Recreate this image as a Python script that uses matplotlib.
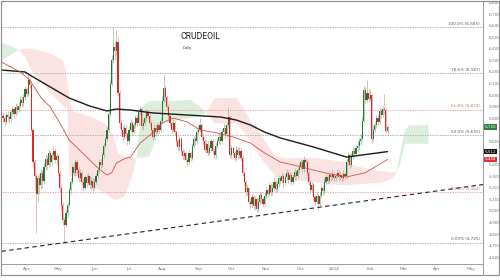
import matplotlib
matplotlib.use("Agg")
import matplotlib.pyplot as plt
import matplotlib.transforms as mtransforms
from matplotlib.patches import Rectangle
from matplotlib.lines import Line2D
import numpy as np
import pandas as pd

# ---------------- data ----------------
start_date = "2023-03-13"

closes = [5800, 5770, 5830, 5810, 5790, 5850, 5880, 5840, 5900, 5870,
          5910, 5960, 5930, 5980, 6050, 6010, 6130, 6090, 5700, 5420,
          5300, 5150, 5280, 5220, 5330, 5260, 5380, 5450, 5400, 5500,
          5420, 5480, 5520, 5440, 5470, 5330, 5200, 5050, 4920, 4880,
          4980, 5050, 5180, 5250, 5380, 5330, 5420, 5350, 5280, 5330,
          5250, 5200, 5290, 5240, 5300, 5220, 5260, 5200, 5250, 5300,
          5350, 5420, 5400, 5480, 5560, 5620, 5700, 5840, 6100, 6300,
          6420, 6380, 6460, 6020, 5760, 5700, 5640, 5720, 5660, 5600,
          5700, 5760, 5680, 5740, 5800, 5760, 5850, 5880, 5730, 5760,
          5800, 5850, 5820, 5760, 5700, 5640, 5720, 5680, 5740, 5700,
          5780, 5950, 6060, 5980, 5900, 5820, 5760, 5700, 5760, 5680,
          5600, 5550, 5620, 5520, 5470, 5500, 5440, 5420, 5500, 5460,
          5560, 5620, 5600, 5680, 5700, 5740, 5640, 5600, 5530, 5580,
          5500, 5540, 5600, 5520, 5480, 5560, 5600, 5640, 5600, 5680,
          5720, 5660, 5740, 5810, 5480, 5540, 5500, 5460, 5530, 5480,
          5520, 5460, 5330, 5250, 5160, 5200, 5080, 5060, 5120, 5040,
          5100, 5020, 5080, 5140, 5100, 5060, 5130, 5180, 5150, 5220,
          5160, 5200, 5250, 5190, 5230, 5280, 5260, 5300, 5240, 5290,
          5330, 5270, 5310, 5250, 5290, 5340, 5300, 5350, 5380, 5420,
          5360, 5440, 5420, 5330, 5250, 5180, 5220, 5120, 5080, 5130,
          5060, 5130, 5200, 5170, 5250, 5290, 5260, 5310, 5290, 5320,
          5280, 5300, 5330, 5290, 5310, 5280, 5320, 5300, 5420, 5480,
          5400, 5470, 5520, 5490, 5540, 5560, 5600, 5620, 5780, 6040,
          5960, 6020, 5970, 6000, 5620, 5700, 5740, 5800, 5770, 5860,
          5830, 5880, 5870, 5690, 5726]

opens = [5820, 5800, 5770, 5830, 5810, 5790, 5850, 5880, 5840, 5900,
         5870, 5910, 5960, 5930, 5980, 6050, 6010, 6130, 6090, 5700,
         5420, 5300, 5150, 5280, 5220, 5330, 5260, 5380, 5450, 5400,
         5500, 5420, 5480, 5520, 5440, 5470, 5330, 5200, 5050, 4920,
         4880, 4980, 5050, 5180, 5250, 5380, 5330, 5420, 5350, 5280,
         5330, 5250, 5200, 5290, 5240, 5300, 5220, 5260, 5200, 5250,
         5300, 5350, 5420, 5400, 5480, 5560, 5620, 5700, 5840, 6100,
         6300, 6420, 6380, 6460, 6020, 5760, 5700, 5640, 5720, 5660,
         5600, 5700, 5760, 5680, 5740, 5800, 5760, 5850, 5880, 5730,
         5760, 5800, 5850, 5820, 5760, 5700, 5640, 5720, 5680, 5740,
         5700, 5780, 5950, 6060, 5980, 5900, 5820, 5760, 5700, 5760,
         5680, 5600, 5550, 5620, 5520, 5470, 5500, 5440, 5420, 5500,
         5460, 5560, 5620, 5600, 5680, 5700, 5740, 5640, 5600, 5530,
         5580, 5500, 5540, 5600, 5520, 5480, 5560, 5600, 5640, 5600,
         5680, 5720, 5660, 5740, 5810, 5480, 5540, 5500, 5460, 5530,
         5480, 5520, 5460, 5330, 5250, 5160, 5200, 5080, 5060, 5120,
         5040, 5100, 5020, 5080, 5140, 5100, 5060, 5130, 5180, 5150,
         5220, 5160, 5200, 5250, 5190, 5230, 5280, 5260, 5300, 5240,
         5290, 5330, 5270, 5310, 5250, 5290, 5340, 5300, 5350, 5380,
         5420, 5360, 5440, 5420, 5330, 5250, 5180, 5220, 5120, 5080,
         5130, 5060, 5130, 5200, 5170, 5250, 5290, 5260, 5310, 5290,
         5320, 5280, 5300, 5330, 5290, 5310, 5280, 5320, 5300, 5420,
         5480, 5400, 5470, 5520, 5490, 5540, 5560, 5600, 5620, 5780,
         6040, 5960, 6020, 5970, 6000, 5620, 5700, 5740, 5800, 5770,
         5860, 5830, 5880, 5870, 5690]

highs = [5850, 5820, 5850, 5860, 5830, 5870, 5910, 5900, 5930, 5920,
         5940, 5990, 5980, 6010, 6080, 6070, 6170, 6160, 6110, 5720,
         5450, 5330, 5310, 5320, 5360, 5350, 5410, 5490, 5480, 5530,
         5520, 5510, 5560, 5540, 5500, 5490, 5350, 5230, 5080, 4950,
         5010, 5080, 5200, 5280, 5400, 5420, 5450, 5440, 5380, 5360,
         5350, 5280, 5310, 5320, 5330, 5310, 5290, 5280, 5280, 5330,
         5380, 5450, 5450, 5510, 5590, 5650, 5730, 5870, 6130, 6350,
         6585, 6470, 6560, 6500, 6040, 5790, 5730, 5750, 5740, 5680,
         5730, 5790, 5780, 5770, 5830, 5830, 5880, 5910, 5900, 5790,
         5830, 5880, 5870, 5840, 5780, 5720, 5750, 5740, 5770, 5760,
         5810, 5990, 6180, 6080, 6000, 5920, 5840, 5780, 5790, 5780,
         5700, 5620, 5650, 5640, 5540, 5530, 5520, 5460, 5530, 5520,
         5590, 5650, 5650, 5710, 5740, 5800, 5760, 5670, 5620, 5610,
         5600, 5570, 5630, 5620, 5540, 5590, 5630, 5670, 5660, 5710,
         5750, 5740, 5770, 5900, 5830, 5570, 5560, 5520, 5560, 5550,
         5550, 5540, 5480, 5350, 5270, 5230, 5210, 5100, 5150, 5140,
         5130, 5120, 5110, 5170, 5160, 5120, 5160, 5210, 5200, 5250,
         5240, 5230, 5280, 5270, 5260, 5310, 5300, 5330, 5320, 5320,
         5360, 5350, 5340, 5330, 5320, 5370, 5360, 5380, 5410, 5450,
         5440, 5470, 5460, 5440, 5350, 5270, 5250, 5240, 5140, 5160,
         5150, 5160, 5230, 5220, 5280, 5320, 5310, 5340, 5330, 5350,
         5340, 5330, 5360, 5350, 5340, 5330, 5350, 5340, 5450, 5510,
         5500, 5500, 5550, 5540, 5570, 5600, 5630, 5660, 5810, 6080,
         6070, 6130, 6050, 6040, 6020, 5730, 5770, 5830, 5830, 5890,
         5890, 5910, 6010, 5890, 5740]

lows = [5770, 5740, 5750, 5780, 5760, 5770, 5830, 5810, 5820, 5840,
        5850, 5890, 5900, 5910, 5960, 5980, 5990, 6060, 5680, 5380,
        5180, 4810, 5080, 5150, 5190, 5200, 5230, 5350, 5360, 5380,
        5390, 5400, 5450, 5410, 5400, 5300, 5160, 5000, 4880, 4725,
        4850, 4950, 5030, 5150, 5230, 5300, 5300, 5320, 5250, 5260,
        5220, 5170, 5180, 5210, 5220, 5190, 5190, 5170, 5180, 5230,
        5280, 5330, 5370, 5380, 5460, 5540, 5600, 5680, 5820, 6080,
        6280, 6300, 6350, 5990, 5720, 5660, 5600, 5620, 5630, 5570,
        5580, 5680, 5650, 5660, 5720, 5730, 5740, 5830, 5700, 5700,
        5740, 5780, 5790, 5730, 5670, 5610, 5620, 5650, 5660, 5670,
        5680, 5760, 5930, 5950, 5870, 5790, 5730, 5670, 5680, 5650,
        5570, 5520, 5530, 5490, 5440, 5440, 5410, 5390, 5400, 5430,
        5440, 5540, 5570, 5580, 5660, 5680, 5610, 5570, 5500, 5510,
        5470, 5480, 5520, 5490, 5460, 5460, 5540, 5580, 5570, 5580,
        5660, 5630, 5640, 5720, 5460, 5460, 5470, 5430, 5440, 5450,
        5460, 5430, 5300, 5220, 5130, 5140, 5050, 5020, 5030, 5010,
        5020, 4990, 5000, 5060, 5070, 5030, 5040, 5110, 5120, 5130,
        5130, 5140, 5180, 5160, 5170, 5210, 5230, 5240, 5210, 5220,
        5270, 5240, 5250, 5220, 5230, 5270, 5270, 5280, 5330, 5360,
        5330, 5340, 5390, 5310, 5220, 5150, 5160, 5090, 5050, 5060,
        5010, 5040, 5110, 5140, 5150, 5230, 5230, 5240, 5260, 5270,
        5250, 5260, 5280, 5260, 5270, 5250, 5260, 5270, 5280, 5400,
        5370, 5380, 5450, 5460, 5470, 5510, 5530, 5570, 5600, 5760,
        5930, 5940, 5940, 5950, 5590, 5600, 5680, 5720, 5740, 5750,
        5800, 5810, 5840, 5670, 5660]

# long moving average (black) sampled along the picture
ma_long_idx = [-1, 14, 17, 30, 42, 55, 66, 72, 81, 95, 117, 138, 148, 157,
               166, 176, 197, 218, 228, 244]
ma_long_val = [6217, 6200, 6174, 6070, 5975, 5906, 5863, 5880, 5871, 5846,
               5828, 5811, 5785, 5742, 5681, 5630, 5552, 5465, 5483, 5512]

# short moving average (red)
ma_short_idx = [-1, 11, 17, 24, 30, 36, 42, 49, 55, 61, 66, 69, 72, 77, 81,
                87, 95, 101, 108, 117, 125, 136, 146, 157, 166, 176, 188,
                197, 207, 218, 230, 244]
ma_short_val = [6286, 6200, 6130, 5980, 5897, 5760, 5612, 5520, 5440, 5360,
                5310, 5330, 5414, 5450, 5465, 5586, 5673, 5759, 5802, 5768,
                5699, 5673, 5638, 5586, 5500, 5422, 5385, 5353, 5320, 5293,
                5330, 5444]

# cloud spans
cloud_idx = [-1, 4, 10, 14, 19, 25, 30, 35, 38, 40, 41, 42, 44, 47, 52, 58,
             65, 70, 73, 77, 82, 85, 88, 93, 100, 109, 119, 125, 129, 134,
             141, 148, 152, 157, 164, 173, 179, 188, 198, 207, 217, 226, 236,
             242, 247, 250, 252, 255, 258, 265, 270]
span_a = [6450, 6430, 6390, 6330, 6190, 6100, 6020, 5950, 5910, 5890, 5880,
          5300, 5300, 5300, 5250, 5200, 5150, 5100, 5100, 5120, 5300, 5470,
          5900, 5950, 5950, 5950, 5960, 5900, 5850, 5760, 5750, 5760, 5700,
          5600, 5450, 5300, 5270, 5260, 5250, 5230, 5220, 5230, 5240, 5250,
          5280, 5340, 5500, 5700, 5740, 5740, 5740]
span_b = [6300, 6340, 6390, 6400, 6400, 6380, 6360, 6320, 6300, 6200, 6100,
          6000, 5860, 5850, 5830, 5800, 5750, 5650, 5500, 5470, 5460, 5460,
          5460, 5470, 5750, 5780, 5800, 5820, 5850, 5970, 5975, 5975, 5900,
          5780, 5650, 5470, 5455, 5455, 5455, 5440, 5420, 5380, 5350, 5340,
          5330, 5340, 5400, 5580, 5580, 5580, 5580]

# Fibonacci retracement levels
fib_levels = [6585, 6187, 5874, 5655, 5164, 4725]
fib_labels = ["100.0% (6,585)", "78.6% (6,187)", "61.8% (5,874)",
              "50.0% (5,655)", "23.6% (5,164)", "0.00% (4,725)"]
fib_is_red = [False, False, True, False, True, False]

# trend line anchors (index, price)
trend_p1 = (38.5, 4725)
trend_p2 = (200, 5030)

y_ticks = list(range(4600, 6801, 100))
hidden_ticks = [5500, 5700]   # covered by the value boxes in the reference

# ---------------- drawing ----------------
fig = plt.figure(figsize=(5.0, 2.8), dpi=100)
fig.patch.set_facecolor("white")
ax = fig.add_axes([0.003, 0.0571, 0.963, 0.9393])
ax.set_xlim(-0.95, 304.6)
ax.set_ylim(4541, 6813)

GREEN_C = "#d8ecd8"
PINK_C = "#fbdede"
ca = np.array(span_a, float)
cb = np.array(span_b, float)
cx = np.array(cloud_idx, float)
ax.fill_between(cx, ca, cb, where=ca >= cb, interpolate=True,
                color=GREEN_C, lw=0, zorder=0, alpha=0.85)
ax.fill_between(cx, ca, cb, where=ca < cb, interpolate=True,
                color=PINK_C, lw=0, zorder=0, alpha=0.85)

# fib lines
btr = mtransforms.blended_transform_factory(ax.transAxes, ax.transData)
for lev, lab, red in zip(fib_levels, fib_labels, fib_is_red):
    col = "#e29a9a" if red else "#a0a0a0"
    tcol = "#d56a6a" if red else "#555555"
    ax.axhline(lev, color=col, lw=0.6, ls=(0, (1.6, 1.4)), zorder=1)
    ax.text(0.994, lev + 12, lab, transform=btr,
            ha="right", va="bottom", fontsize=3.0, color=tcol, zorder=5)

# candles
x = np.arange(len(closes))
o = np.array(opens, float)
c = np.array(closes, float)
h = np.array(highs, float)
l = np.array(lows, float)
up = c >= o
body_col = np.where(up, "#1d7a36", "#e2242b")
wick_col = np.where(up, "#8fbf98", "#ef9b9b")
ax.vlines(x, l, h, colors=wick_col, lw=0.5, zorder=3)
ax.bar(x, np.maximum(np.abs(c - o), 10), bottom=np.minimum(o, c), width=0.72,
       color=body_col, linewidth=0, zorder=4)

# moving averages
ax.plot(ma_long_idx, ma_long_val, color="#1a1a1a", lw=1.0, zorder=5,
        solid_capstyle="round")
ax.plot(ma_short_idx, ma_short_val, color="#d84a46", lw=0.6, zorder=5)

# trend line
ax.axline(trend_p1, trend_p2, color="#222222", lw=0.8, ls=(0, (4, 3)), zorder=5)

# axes styling
for s in ["left", "top"]:
    ax.spines[s].set_visible(False)
for s in ["right", "bottom"]:
    ax.spines[s].set_color("#9a9a9a")
    ax.spines[s].set_linewidth(0.7)

ax.yaxis.tick_right()
ax.set_yticks(y_ticks)
ax.set_yticklabels(["" if v in hidden_ticks else f"{v:,}" for v in y_ticks])
ax.tick_params(axis="y", length=0, pad=4, labelsize=3.1, labelcolor="#777777")

dates = pd.bdate_range(start_date, periods=310)
tick_pos, tick_lab = [], []
for k in range(1, len(dates)):
    if dates[k].month != dates[k - 1].month and k < 305:
        tick_pos.append(k)
        tick_lab.append(str(dates[k].year) if dates[k].month == 1 else dates[k].strftime("%b"))
ax.set_xticks(tick_pos)
ax.set_xticklabels(tick_lab)
ax.tick_params(axis="x", length=0, pad=2.5, labelsize=3.1, labelcolor="#777777")

# value boxes on the price axis
for val, fc in [(closes[-1], "#2c7f3c"), (ma_long_val[-1], "#111111"),
                (ma_short_val[-1], "#e0312f")]:
    ax.text(1.004, val, f"{val:,}", transform=btr, ha="left", va="center",
            fontsize=3.0, color="white", zorder=10, clip_on=False,
            bbox=dict(boxstyle="square,pad=0.18", fc=fc, ec="none"))

# title
fig.text(0.401, 0.871, "CRUDEOIL", ha="center", va="center", fontsize=6.2,
         family="Roboto", color="#222222")
fig.text(0.366, 0.829, "Daily", ha="left", va="center", fontsize=3.0,
         family="Roboto", color="#444444")

# frame
fig.patches.append(Rectangle((0.001, 0.018), 0.997, 0.980, transform=fig.transFigure,
                             fill=False, ec="#8a8a8a", lw=0.8))
fig.lines.append(Line2D([0.966, 0.966], [0.018, 0.06], transform=fig.transFigure,
                        color="#9a9a9a", lw=0.7))

fig.savefig("out.png", dpi=100)
